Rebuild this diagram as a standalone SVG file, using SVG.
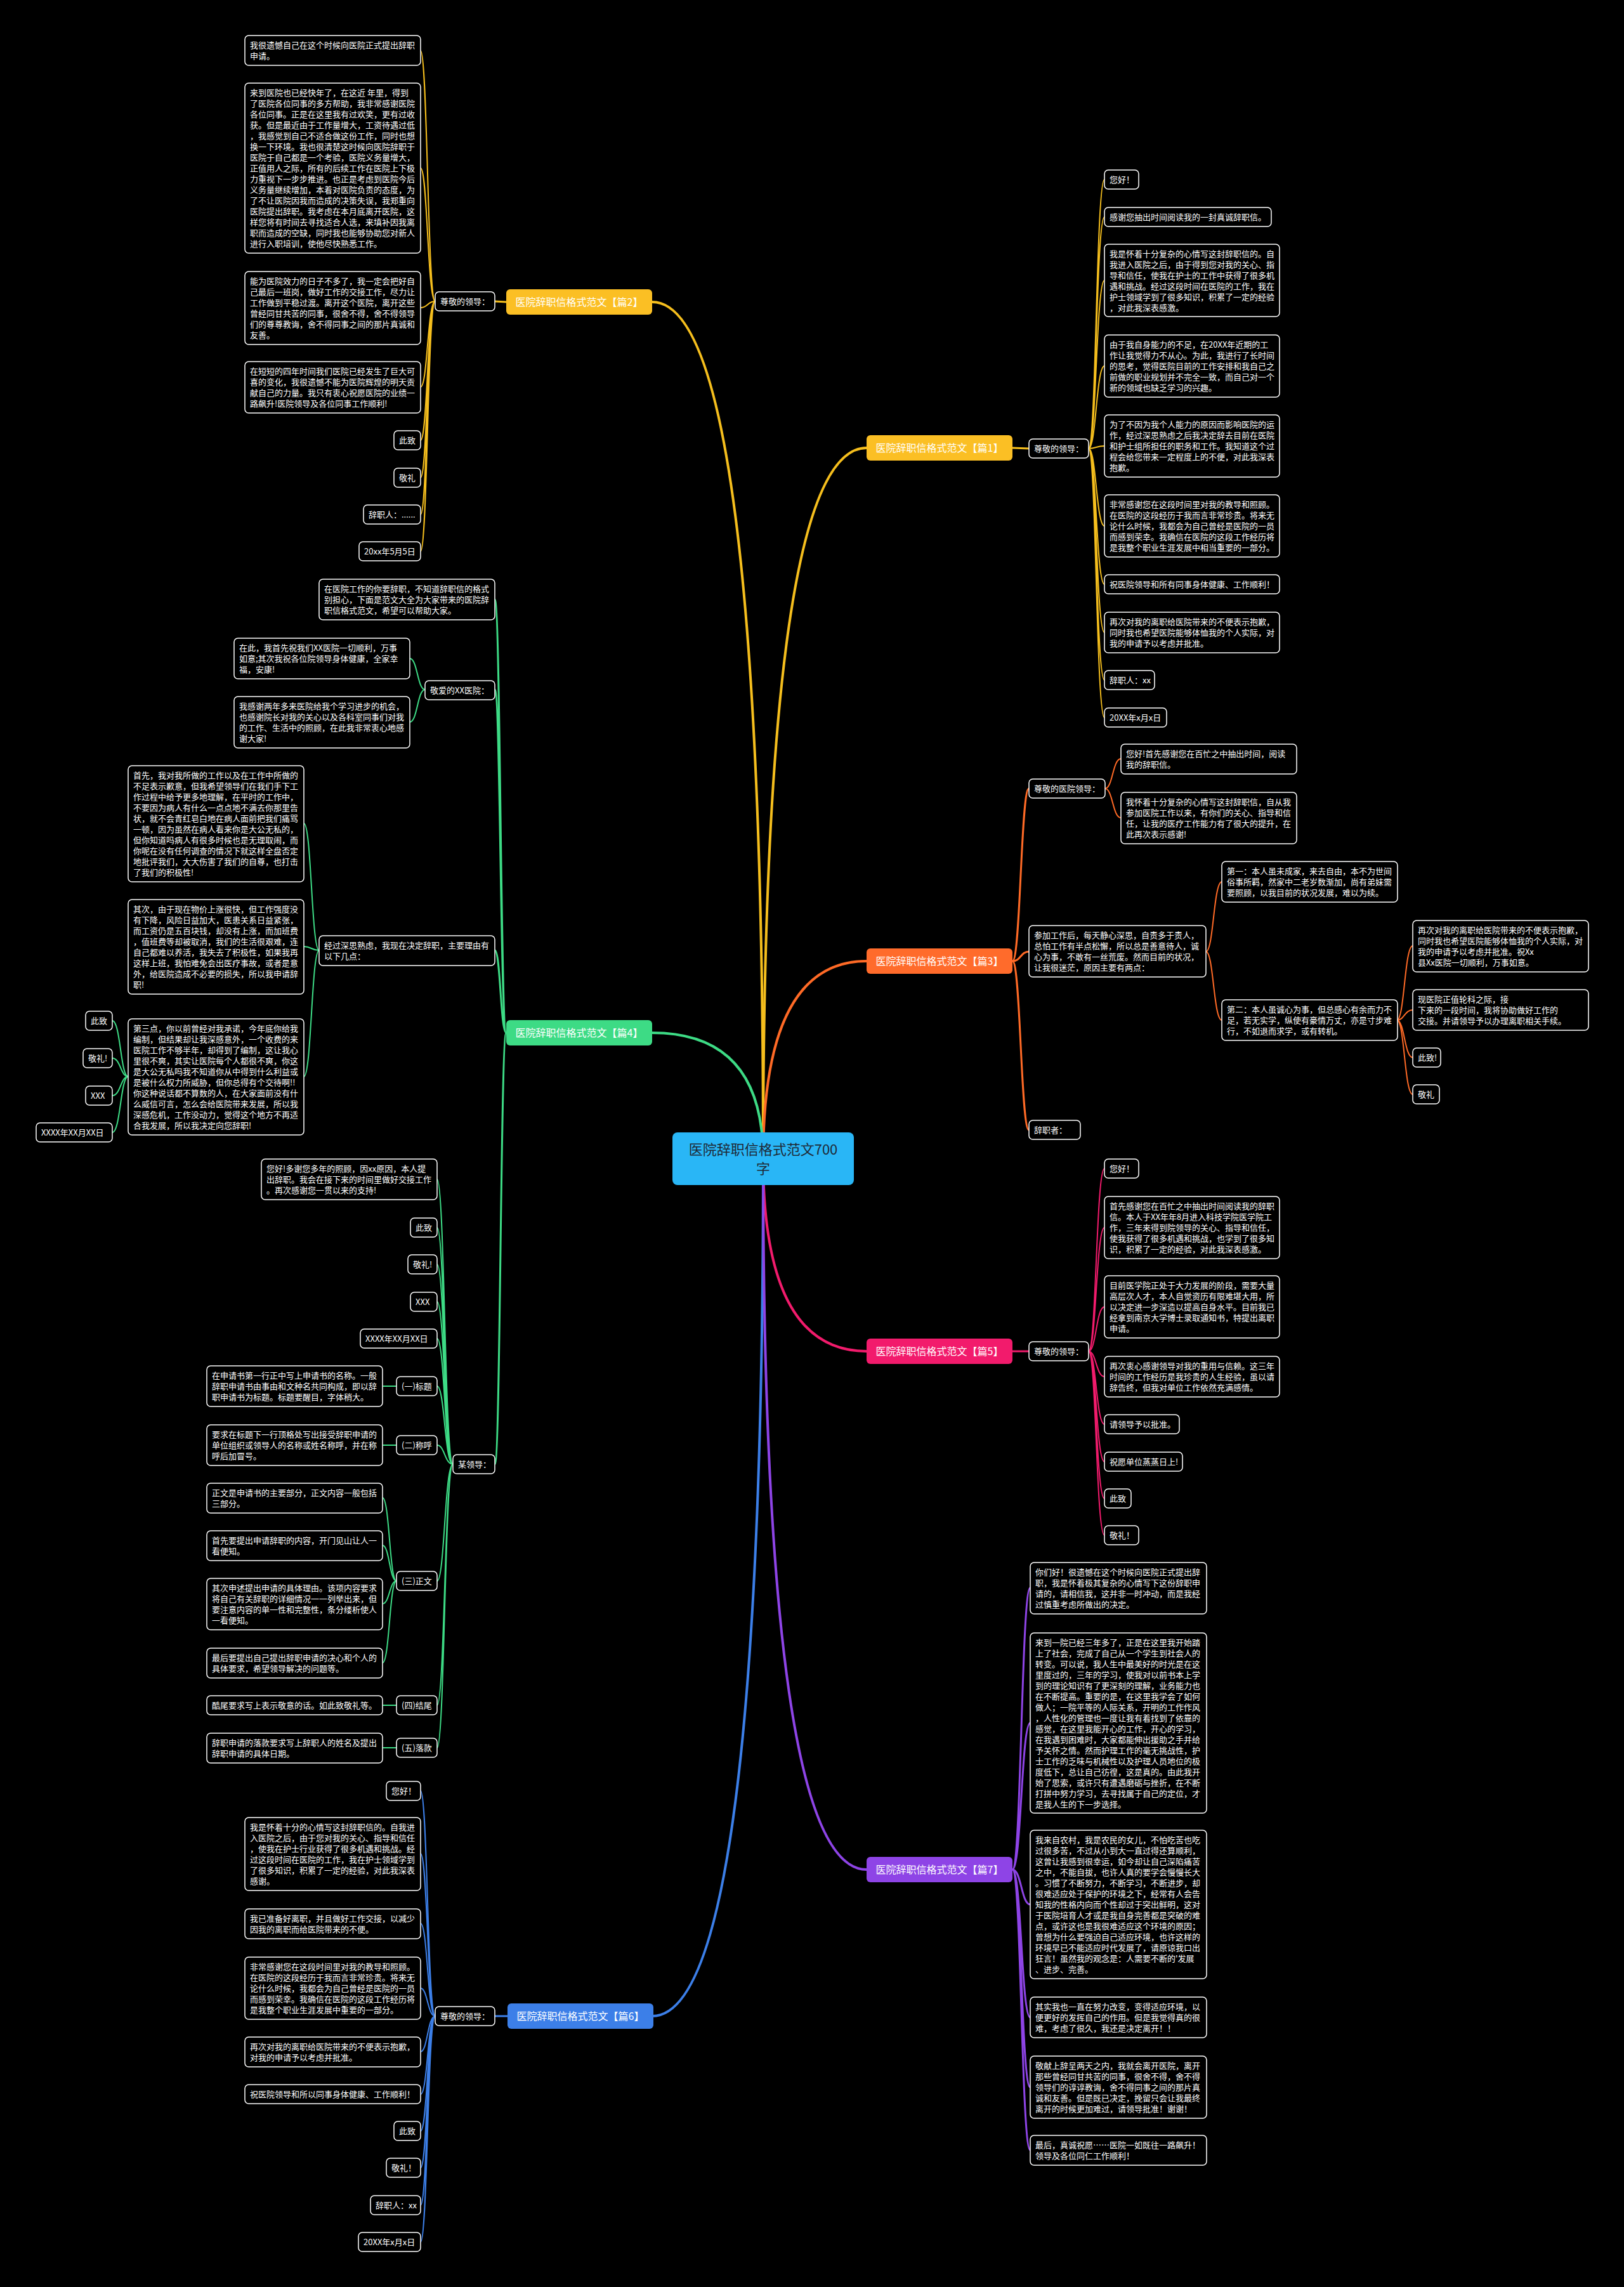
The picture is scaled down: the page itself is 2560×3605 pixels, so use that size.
<svg xmlns="http://www.w3.org/2000/svg" width="2560" height="3605" viewBox="0 0 2560 3605">
<style>
text{font-family:"Noto Sans CJK SC","Noto Sans",sans-serif;font-size:13px;fill:#fff}
.nb{fill:#000;stroke:#fff;stroke-width:1.5}
.lab text{font-size:16px;text-anchor:middle}
.c{fill:none;stroke-linecap:round}
.m{stroke-width:4}.s{stroke-width:3}.t{stroke-width:2}
.y{stroke:#F5BE1D}.o{stroke:#FF6A26}.g{stroke:#3DDB85}.p{stroke:#F21B6C}.b{stroke:#3C7FE8}.v{stroke:#8E44E6}
</style>
<rect width="2560" height="3605" fill="#000"/>
<g id="connectors">
<path class="c m y" d="M1203 1826Q1203 706 1366 706"/>
<path class="c m y" d="M1203 1826Q1203 476 1028 476"/>
<path class="c m o" d="M1203 1826Q1203 1515 1366 1515"/>
<path class="c m g" d="M1203 1826Q1203 1628 1028 1628"/>
<path class="c m p" d="M1203 1826Q1203 2130 1366 2130"/>
<path class="c m b" d="M1203 1826Q1203 3178 1028 3178"/>
<path class="c m v" d="M1203 1826Q1203 2947 1366 2947"/>
<path class="c s y" d="M1596 706L1622 707"/>
<path class="c s y" d="M798 476L780 475"/>
<path class="c s o" d="M1596 1515C1609 1515 1609 1243 1622 1243M1596 1515C1609 1515 1609 1500 1622 1500M1596 1515C1609 1515 1609 1781 1622 1781"/>
<path class="c s g" d="M798 1628C789 1628 789 945 780 945M798 1628C789 1628 789 1087 780 1087M798 1628C789 1628 789 1498 780 1498M798 1628C789 1628 789 2308 780 2308"/>
<path class="c s p" d="M1596 2130L1622 2130"/>
<path class="c s b" d="M800 3178L780 3178"/>
<path class="c s v" d="M1596 2947C1610 2947 1610 2503 1624 2503M1596 2947C1610 2947 1610 2716 1624 2716M1596 2947C1610 2947 1610 3002 1624 3002M1596 2947C1610 2947 1610 3180 1624 3180M1596 2947C1610 2947 1610 3290 1624 3290M1596 2947C1610 2947 1610 3389 1624 3389"/>
<path class="c t y" d="M1716 707C1728 707 1728 283 1741 283M1716 707C1728 707 1728 342 1741 342M1716 707C1728 707 1728 442 1741 442M1716 707C1728 707 1728 577 1741 577M1716 707C1728 707 1728 703 1741 703M1716 707C1728 707 1728 829 1741 829M1716 707C1728 707 1728 921 1741 921M1716 707C1728 707 1728 997 1741 997M1716 707C1728 707 1728 1072 1741 1072M1716 707C1728 707 1728 1131 1741 1131"/>
<path class="c t y" d="M686 475C674 475 674 80 663 80M686 475C674 475 674 265 663 265M686 475C674 475 674 485 663 485M686 475C674 475 674 610 663 610M686 475C674 475 674 694 663 694M686 475C674 475 674 753 663 753M686 475C674 475 674 811 663 811M686 475C674 475 674 869 663 869"/>
<path class="c t o" d="M1742 1243C1754 1243 1754 1196 1767 1196M1742 1243C1754 1243 1754 1289 1767 1289M1901 1500C1913 1500 1913 1390 1926 1390M1901 1500C1913 1500 1913 1608 1926 1608M2202 1608C2214 1608 2214 1491 2227 1491M2202 1608C2214 1608 2214 1592 2227 1592M2202 1608C2214 1608 2214 1667 2227 1667M2202 1608C2214 1608 2214 1725 2227 1725"/>
<path class="c t g" d="M670 1087C658 1087 658 1038 646 1038M670 1087C658 1087 658 1138 646 1138M503 1498C491 1498 491 1298 479 1298M503 1498C491 1498 491 1492 479 1492M503 1498C491 1498 491 1697 479 1697M202 1697C190 1697 190 1609 177 1609M202 1697C190 1697 190 1668 177 1668M202 1697C190 1697 190 1727 177 1727M202 1697C190 1697 190 1785 177 1785"/>
<path class="c t g" d="M714 2308C701 2308 701 1859 689 1859M714 2308C701 2308 701 1935 689 1935M714 2308C701 2308 701 1993 689 1993M714 2308C701 2308 701 2052 689 2052M714 2308C701 2308 701 2110 689 2110M714 2308C701 2308 701 2185 689 2185M714 2308C701 2308 701 2278 689 2278M714 2308C701 2308 701 2492 689 2492M714 2308C701 2308 701 2688 689 2688M714 2308C701 2308 701 2755 689 2755"/>
<path class="c t g" d="M625 2185L603 2185M625 2278L603 2278M625 2492C614 2492 614 2361 603 2361M625 2492C614 2492 614 2436 603 2436M625 2492C614 2492 614 2528 603 2528M625 2492C614 2492 614 2621 603 2621M625 2688L603 2688M625 2755L603 2755"/>
<path class="c t p" d="M1716 2130C1728 2130 1728 1842 1741 1842M1716 2130C1728 2130 1728 1935 1741 1935M1716 2130C1728 2130 1728 2060 1741 2060M1716 2130C1728 2130 1728 2170 1741 2170M1716 2130C1728 2130 1728 2245 1741 2245M1716 2130C1728 2130 1728 2304 1741 2304M1716 2130C1728 2130 1728 2362 1741 2362M1716 2130C1728 2130 1728 2420 1741 2420"/>
<path class="c t b" d="M686 3178C674 3178 674 2823 663 2823M686 3178C674 3178 674 2922 663 2922M686 3178C674 3178 674 3032 663 3032M686 3178C674 3178 674 3134 663 3134M686 3178C674 3178 674 3234 663 3234M686 3178C674 3178 674 3301 663 3301M686 3178C674 3178 674 3359 663 3359M686 3178C674 3178 674 3417 663 3417M686 3178C674 3178 674 3476 663 3476M686 3178C674 3178 674 3534 663 3534"/>
</g>

<g id="center"><rect x="1060" y="1785" width="286" height="83" rx="8" fill="#29B6F6"/>
<text x="1203" y="1820" text-anchor="middle" style="font-size:22px;fill:#1f2a36">医院辞职信格式范文700</text>
<text x="1203" y="1850" text-anchor="middle" style="font-size:22px;fill:#1f2a36">字</text></g>

<g id="label1" class="lab"><rect x="1366" y="686" width="230" height="40" rx="6" fill="#FBBF24"/><text x="1481" y="712">医院辞职信格式范文【篇1】</text></g>
<g id="label2" class="lab"><rect x="798" y="456" width="230" height="40" rx="6" fill="#FBBF24"/><text x="913" y="482">医院辞职信格式范文【篇2】</text></g>
<g id="label3" class="lab"><rect x="1366" y="1495" width="230" height="40" rx="6" fill="#FF6B2B"/><text x="1481" y="1521">医院辞职信格式范文【篇3】</text></g>
<g id="label4" class="lab"><rect x="798" y="1608" width="230" height="40" rx="6" fill="#3DDB85"/><text x="913" y="1634">医院辞职信格式范文【篇4】</text></g>
<g id="label5" class="lab"><rect x="1366" y="2110" width="230" height="40" rx="6" fill="#F21B6C"/><text x="1481" y="2136">医院辞职信格式范文【篇5】</text></g>
<g id="label6" class="lab"><rect x="800" y="3158" width="230" height="40" rx="6" fill="#3C7FE8"/><text x="915" y="3184">医院辞职信格式范文【篇6】</text></g>
<g id="label7" class="lab"><rect x="1366" y="2927" width="230" height="40" rx="6" fill="#8E44E6"/><text x="1481" y="2953">医院辞职信格式范文【篇7】</text></g>

<!-- Pian 1 -->
<g id="p1-root"><rect class="nb" x="1622" y="692" width="94" height="30" rx="6"/><text x="1630" y="712">尊敬的领导：</text></g>
<g id="p1-a"><rect class="nb" x="1741" y="268" width="54" height="30" rx="6"/><text x="1749" y="288">您好！</text></g>
<g id="p1-b"><rect class="nb" x="1741" y="327" width="263" height="30" rx="6"/><text x="1749" y="347">感谢您抽出时间阅读我的一封真诚辞职信。</text></g>
<g id="p1-c"><rect class="nb" x="1741" y="385" width="276" height="114" rx="6"/><text x="1749" y="405"><tspan x="1749">我是怀着十分复杂的心情写这封辞职信的。自</tspan><tspan x="1749" dy="17">我进入医院之后，由于得到您对我的关心、指</tspan><tspan x="1749" dy="17">导和信任，使我在护士的工作中获得了很多机</tspan><tspan x="1749" dy="17">遇和挑战。经过这段时间在医院的工作，我在</tspan><tspan x="1749" dy="17">护士领域学到了很多知识，积累了一定的经验</tspan><tspan x="1749" dy="17">，对此我深表感激。</tspan></text></g>
<g id="p1-d"><rect class="nb" x="1741" y="528" width="276" height="98" rx="6"/><text x="1749" y="548"><tspan x="1749">由于我自身能力的不足，在20XX年近期的工</tspan><tspan x="1749" dy="17">作让我觉得力不从心。为此，我进行了长时间</tspan><tspan x="1749" dy="17">的思考，觉得医院目前的工作安排和我自己之</tspan><tspan x="1749" dy="17">前做的职业规划并不完全一致，而自己对一个</tspan><tspan x="1749" dy="17">新的领域也缺乏学习的兴趣。</tspan></text></g>
<g id="p1-e"><rect class="nb" x="1741" y="654" width="276" height="98" rx="6"/><text x="1749" y="674"><tspan x="1749">为了不因为我个人能力的原因而影响医院的运</tspan><tspan x="1749" dy="17">作，经过深思熟虑之后我决定辞去目前在医院</tspan><tspan x="1749" dy="17">和护士组所担任的职务和工作。我知道这个过</tspan><tspan x="1749" dy="17">程会给您带来一定程度上的不便，对此我深表</tspan><tspan x="1749" dy="17">抱歉。</tspan></text></g>
<g id="p1-f"><rect class="nb" x="1741" y="780" width="276" height="98" rx="6"/><text x="1749" y="800"><tspan x="1749">非常感谢您在这段时间里对我的教导和照顾。</tspan><tspan x="1749" dy="17">在医院的这段经历于我而言非常珍贵。将来无</tspan><tspan x="1749" dy="17">论什么时候，我都会为自己曾经是医院的一员</tspan><tspan x="1749" dy="17">而感到荣幸。我确信在医院的这段工作经历将</tspan><tspan x="1749" dy="17">是我整个职业生涯发展中相当重要的一部分。</tspan></text></g>
<g id="p1-g"><rect class="nb" x="1741" y="906" width="276" height="30" rx="6"/><text x="1749" y="926">祝医院领导和所有同事身体健康、工作顺利！</text></g>
<g id="p1-h"><rect class="nb" x="1741" y="965" width="276" height="64" rx="6"/><text x="1749" y="985"><tspan x="1749">再次对我的离职给医院带来的不便表示抱歉，</tspan><tspan x="1749" dy="17">同时我也希望医院能够体恤我的个人实际，对</tspan><tspan x="1749" dy="17">我的申请予以考虑并批准。</tspan></text></g>
<g id="p1-i"><rect class="nb" x="1741" y="1057" width="79" height="30" rx="6"/><text x="1749" y="1077">辞职人：xx</text></g>
<g id="p1-j"><rect class="nb" x="1741" y="1116" width="98" height="30" rx="6"/><text x="1749" y="1136">20XX年x月x日</text></g>

<!-- Pian 2 -->
<g id="p2-root"><rect class="nb" x="686" y="460" width="94" height="30" rx="6"/><text x="694" y="480">尊敬的领导：</text></g>
<g id="p2-a"><rect class="nb" x="386" y="56" width="277" height="47" rx="6"/><text x="394" y="76"><tspan x="394">我很遗憾自己在这个时候向医院正式提出辞职</tspan><tspan x="394" dy="17">申请。</tspan></text></g>
<g id="p2-b"><rect class="nb" x="386" y="131" width="277" height="268" rx="6"/><text x="394" y="151"><tspan x="394">来到医院也已经快年了，在这近 年里，得到</tspan><tspan x="394" dy="17">了医院各位同事的多方帮助，我非常感谢医院</tspan><tspan x="394" dy="17">各位同事。正是在这里我有过欢笑，更有过收</tspan><tspan x="394" dy="17">获。但是最近由于工作量增大，工资待遇过低</tspan><tspan x="394" dy="17">，我感觉到自己不适合做这份工作，同时也想</tspan><tspan x="394" dy="17">换一下环境。我也很清楚这时候向医院辞职于</tspan><tspan x="394" dy="17">医院于自己都是一个考验，医院义务量增大，</tspan><tspan x="394" dy="17">正值用人之际，所有的后续工作在医院上下极</tspan><tspan x="394" dy="17">力重视下一步步推进。也正是考虑到医院今后</tspan><tspan x="394" dy="17">义务量继续增加，本着对医院负责的态度，为</tspan><tspan x="394" dy="17">了不让医院因我而造成的决策失误，我郑重向</tspan><tspan x="394" dy="17">医院提出辞职。我考虑在本月底离开医院，这</tspan><tspan x="394" dy="17">样您将有时间去寻找适合人选，来填补因我离</tspan><tspan x="394" dy="17">职而造成的空缺，同时我也能够协助您对新人</tspan><tspan x="394" dy="17">进行入职培训，使他尽快熟悉工作。</tspan></text></g>
<g id="p2-c"><rect class="nb" x="386" y="428" width="277" height="115" rx="6"/><text x="394" y="448"><tspan x="394">能为医院效力的日子不多了，我一定会把好自</tspan><tspan x="394" dy="17">己最后一班岗，做好工作的交接工作，尽力让</tspan><tspan x="394" dy="17">工作做到平稳过渡。离开这个医院，离开这些</tspan><tspan x="394" dy="17">曾经同甘共苦的同事，很舍不得，舍不得领导</tspan><tspan x="394" dy="17">们的尊尊教诲，舍不得同事之间的那片真诚和</tspan><tspan x="394" dy="17">友善。</tspan></text></g>
<g id="p2-d"><rect class="nb" x="386" y="570" width="277" height="81" rx="6"/><text x="394" y="590"><tspan x="394">在短短的四年时间我们医院已经发生了巨大可</tspan><tspan x="394" dy="17">喜的变化，我很遗憾不能为医院辉煌的明天贡</tspan><tspan x="394" dy="17">献自己的力量。我只有衷心祝愿医院的业绩一</tspan><tspan x="394" dy="17">路飙升!医院领导及各位同事工作顺利!</tspan></text></g>
<g id="p2-e"><rect class="nb" x="621" y="679" width="42" height="30" rx="6"/><text x="629" y="699">此致</text></g>
<g id="p2-f"><rect class="nb" x="621" y="738" width="42" height="30" rx="6"/><text x="629" y="758">敬礼</text></g>
<g id="p2-g"><rect class="nb" x="573" y="796" width="90" height="30" rx="6"/><text x="581" y="816">辞职人：......</text></g>
<g id="p2-h"><rect class="nb" x="566" y="854" width="97" height="30" rx="6"/><text x="574" y="874">20xx年5月5日</text></g>

<!-- Pian 3 -->
<g id="p3-root1"><rect class="nb" x="1622" y="1228" width="120" height="30" rx="6"/><text x="1630" y="1248">尊敬的医院领导：</text></g>
<g id="p3-a"><rect class="nb" x="1767" y="1173" width="277" height="47" rx="6"/><text x="1775" y="1193"><tspan x="1775">您好!首先感谢您在百忙之中抽出时间，阅读</tspan><tspan x="1775" dy="17">我的辞职信。</tspan></text></g>
<g id="p3-b"><rect class="nb" x="1767" y="1249" width="277" height="81" rx="6"/><text x="1775" y="1269"><tspan x="1775">我怀着十分复杂的心情写这封辞职信，自从我</tspan><tspan x="1775" dy="17">参加医院工作以来，有你们的关心、指导和信</tspan><tspan x="1775" dy="17">任，让我的医疗工作能力有了很大的提升，在</tspan><tspan x="1775" dy="17">此再次表示感谢!</tspan></text></g>
<g id="p3-root2"><rect class="nb" x="1622" y="1459" width="279" height="81" rx="6"/><text x="1630" y="1479"><tspan x="1630">参加工作后，每天静心深思，自责多于责人，</tspan><tspan x="1630" dy="17">总怕工作有半点松懈，所以总是善意待人，诚</tspan><tspan x="1630" dy="17">心为事，不敢有一丝荒废。然而目前的状况，</tspan><tspan x="1630" dy="17">让我很迷茫，原因主要有两点：</tspan></text></g>
<g id="p3-c"><rect class="nb" x="1926" y="1358" width="277" height="64" rx="6"/><text x="1934" y="1378"><tspan x="1934">第一：本人虽未成家，来去自由，本不为世间</tspan><tspan x="1934" dy="17">俗事所羁，然家中二老岁数渐加，尚有弟妹需</tspan><tspan x="1934" dy="17">要照顾，以我目前的状况发展，难以为续。</tspan></text></g>
<g id="p3-d"><rect class="nb" x="1926" y="1576" width="277" height="64" rx="6"/><text x="1934" y="1596"><tspan x="1934">第二：本人虽诚心为事，但总感心有余而力不</tspan><tspan x="1934" dy="17">足，若无实学，纵使有豪情万丈，亦是寸步难</tspan><tspan x="1934" dy="17">行，不如退而求学，或有转机。</tspan></text></g>
<g id="p3-e"><rect class="nb" x="2227" y="1451" width="277" height="81" rx="6"/><text x="2235" y="1471"><tspan x="2235">再次对我的离职给医院带来的不便表示抱歉，</tspan><tspan x="2235" dy="17">同时我也希望医院能够体恤我的个人实际，对</tspan><tspan x="2235" dy="17">我的申请予以考虑并批准。祝Xx</tspan><tspan x="2235" dy="17">县Xx医院一切顺利，万事如意。</tspan></text></g>
<g id="p3-f"><rect class="nb" x="2227" y="1560" width="277" height="64" rx="6"/><text x="2235" y="1580"><tspan x="2235">现医院正值轮科之际，接</tspan><tspan x="2235" dy="17">下来的一段时间，我将协助做好工作的</tspan><tspan x="2235" dy="17">交接。并请领导予以办理离职相关手续。</tspan></text></g>
<g id="p3-g"><rect class="nb" x="2227" y="1652" width="44" height="30" rx="6"/><text x="2235" y="1672">此致!</text></g>
<g id="p3-h"><rect class="nb" x="2227" y="1710" width="42" height="30" rx="6"/><text x="2235" y="1730">敬礼</text></g>
<g id="p3-root3"><rect class="nb" x="1622" y="1766" width="81" height="30" rx="6"/><text x="1630" y="1786">辞职者：</text></g>

<!-- Pian 4 -->
<g id="p4-intro"><rect class="nb" x="503" y="913" width="277" height="64" rx="6"/><text x="511" y="933"><tspan x="511">在医院工作的你要辞职，不知道辞职信的格式</tspan><tspan x="511" dy="17">别担心，下面是范文大全为大家带来的医院辞</tspan><tspan x="511" dy="17">职信格式范文，希望可以帮助大家。</tspan></text></g>
<g id="p4-root1"><rect class="nb" x="670" y="1073" width="110" height="30" rx="6"/><text x="678" y="1093">敬爱的XX医院：</text></g>
<g id="p4-a"><rect class="nb" x="369" y="1006" width="277" height="64" rx="6"/><text x="377" y="1026"><tspan x="377">在此，我首先祝我们XX医院一切顺利，万事</tspan><tspan x="377" dy="17">如意;其次我祝各位院领导身体健康，全家幸</tspan><tspan x="377" dy="17">福，安康!</tspan></text></g>
<g id="p4-b"><rect class="nb" x="369" y="1098" width="277" height="81" rx="6"/><text x="377" y="1118"><tspan x="377">我感谢两年多来医院给我个学习进步的机会，</tspan><tspan x="377" dy="17">也感谢院长对我的关心以及各科室同事们对我</tspan><tspan x="377" dy="17">的工作、生活中的照顾，在此我非常衷心地感</tspan><tspan x="377" dy="17">谢大家!</tspan></text></g>
<g id="p4-root2"><rect class="nb" x="503" y="1475" width="277" height="47" rx="6"/><text x="511" y="1495"><tspan x="511">经过深思熟虑，我现在决定辞职，主要理由有</tspan><tspan x="511" dy="17">以下几点：</tspan></text></g>
<g id="p4-c"><rect class="nb" x="202" y="1207" width="277" height="183" rx="6"/><text x="210" y="1227"><tspan x="210">首先，我对我所做的工作以及在工作中所做的</tspan><tspan x="210" dy="17">不足表示歉意，但我希望领导们在我们手下工</tspan><tspan x="210" dy="17">作过程中给予更多地理解，在平时的工作中，</tspan><tspan x="210" dy="17">不要因为病人有什么一点点地不满去你那里告</tspan><tspan x="210" dy="17">状，就不会青红皂白地在病人面前把我们痛骂</tspan><tspan x="210" dy="17">一顿，因为虽然在病人看来你是大公无私的，</tspan><tspan x="210" dy="17">但你知道吗病人有很多时候也是无理取闹，而</tspan><tspan x="210" dy="17">你呢在没有任何调查的情况下就这样全盘否定</tspan><tspan x="210" dy="17">地批评我们，大大伤害了我们的自尊，也打击</tspan><tspan x="210" dy="17">了我们的积极性!</tspan></text></g>
<g id="p4-d"><rect class="nb" x="202" y="1418" width="277" height="149" rx="6"/><text x="210" y="1438"><tspan x="210">其次，由于现在物价上涨很快，但工作强度没</tspan><tspan x="210" dy="17">有下降，风险日益加大，医患关系日益紧张，</tspan><tspan x="210" dy="17">而工资仍是五百块钱，却没有上涨，而加班费</tspan><tspan x="210" dy="17">，值班费等却被取消，我们的生活很艰难，连</tspan><tspan x="210" dy="17">自己都难以养活，我失去了积极性，如果我再</tspan><tspan x="210" dy="17">这样上班，我怕难免会出医疗事故，或者是意</tspan><tspan x="210" dy="17">外，给医院造成不必要的损失，所以我申请辞</tspan><tspan x="210" dy="17">职!</tspan></text></g>
<g id="p4-e"><rect class="nb" x="202" y="1606" width="277" height="183" rx="6"/><text x="210" y="1626"><tspan x="210">第三点，你以前曾经对我承诺，今年底你给我</tspan><tspan x="210" dy="17">编制，但结果却让我深感意外，一个收费的来</tspan><tspan x="210" dy="17">医院工作不够半年，却得到了编制，这让我心</tspan><tspan x="210" dy="17">里很不爽，其实让医院每个人都很不爽，你这</tspan><tspan x="210" dy="17">是大公无私吗我不知道你从中得到什么利益或</tspan><tspan x="210" dy="17">是被什么权力所威胁，但你总得有个交待啊!!</tspan><tspan x="210" dy="17">你这种说话都不算数的人，在大家面前没有什</tspan><tspan x="210" dy="17">么威信可言，怎么会给医院带来发展，所以我</tspan><tspan x="210" dy="17">深感危机，工作没动力，觉得这个地方不再适</tspan><tspan x="210" dy="17">合我发展，所以我决定向您辞职!</tspan></text></g>
<g id="p4-f"><rect class="nb" x="135" y="1594" width="42" height="30" rx="6"/><text x="143" y="1614">此致</text></g>
<g id="p4-g"><rect class="nb" x="131" y="1653" width="46" height="30" rx="6"/><text x="139" y="1673">敬礼!</text></g>
<g id="p4-h"><rect class="nb" x="135" y="1712" width="42" height="30" rx="6"/><text x="143" y="1732">XXX</text></g>
<g id="p4-i"><rect class="nb" x="57" y="1770" width="120" height="30" rx="6"/><text x="65" y="1790">XXXX年XX月XX日</text></g>
<g id="p4-root3"><rect class="nb" x="714" y="2293" width="66" height="30" rx="6"/><text x="722" y="2313">某领导：</text></g>
<g id="p4-j"><rect class="nb" x="412" y="1827" width="277" height="64" rx="6"/><text x="420" y="1847"><tspan x="420">您好!多谢您多年的照顾，因xx原因，本人提</tspan><tspan x="420" dy="17">出辞职。我会在接下来的时间里做好交接工作</tspan><tspan x="420" dy="17">。再次感谢您一贯以来的支持!</tspan></text></g>
<g id="p4-k"><rect class="nb" x="647" y="1920" width="42" height="30" rx="6"/><text x="655" y="1940">此致</text></g>
<g id="p4-l"><rect class="nb" x="643" y="1978" width="46" height="30" rx="6"/><text x="651" y="1998">敬礼!</text></g>
<g id="p4-m"><rect class="nb" x="647" y="2037" width="42" height="30" rx="6"/><text x="655" y="2057">XXX</text></g>
<g id="p4-n"><rect class="nb" x="568" y="2095" width="121" height="30" rx="6"/><text x="576" y="2115">XXXX年XX月XX日</text></g>
<g id="p4-o"><rect class="nb" x="625" y="2170" width="64" height="30" rx="6"/><text x="633" y="2190">(一)标题</text></g>
<g id="p4-o1"><rect class="nb" x="326" y="2153" width="277" height="64" rx="6"/><text x="334" y="2173"><tspan x="334">在申请书第一行正中写上申请书的名称。一般</tspan><tspan x="334" dy="17">辞职申请书由事由和文种名共同构成，即以辞</tspan><tspan x="334" dy="17">职申请书为标题。标题要醒目，字体稍大。</tspan></text></g>
<g id="p4-p"><rect class="nb" x="625" y="2263" width="64" height="30" rx="6"/><text x="633" y="2283">(二)称呼</text></g>
<g id="p4-p1"><rect class="nb" x="326" y="2246" width="277" height="64" rx="6"/><text x="334" y="2266"><tspan x="334">要求在标题下一行顶格处写出接受辞职申请的</tspan><tspan x="334" dy="17">单位组织或领导人的名称或姓名称呼，并在称</tspan><tspan x="334" dy="17">呼后加冒号。</tspan></text></g>
<g id="p4-q"><rect class="nb" x="625" y="2477" width="64" height="30" rx="6"/><text x="633" y="2497">(三)正文</text></g>
<g id="p4-q1"><rect class="nb" x="326" y="2338" width="277" height="47" rx="6"/><text x="334" y="2358"><tspan x="334">正文是申请书的主要部分，正文内容一般包括</tspan><tspan x="334" dy="17">三部分。</tspan></text></g>
<g id="p4-q2"><rect class="nb" x="326" y="2413" width="277" height="47" rx="6"/><text x="334" y="2433"><tspan x="334">首先要提出申请辞职的内容，开门见山让人一</tspan><tspan x="334" dy="17">看便知。</tspan></text></g>
<g id="p4-q3"><rect class="nb" x="326" y="2488" width="277" height="81" rx="6"/><text x="334" y="2508"><tspan x="334">其次申述提出申请的具体理由。该项内容要求</tspan><tspan x="334" dy="17">将自己有关辞职的详细情况一一列举出来，但</tspan><tspan x="334" dy="17">要注意内容的单一性和完整性，条分缕析使人</tspan><tspan x="334" dy="17">一看便知。</tspan></text></g>
<g id="p4-q4"><rect class="nb" x="326" y="2598" width="277" height="47" rx="6"/><text x="334" y="2618"><tspan x="334">最后要提出自己提出辞职申请的决心和个人的</tspan><tspan x="334" dy="17">具体要求，希望领导解决的问题等。</tspan></text></g>
<g id="p4-r"><rect class="nb" x="625" y="2673" width="64" height="30" rx="6"/><text x="633" y="2693">(四)结尾</text></g>
<g id="p4-r1"><rect class="nb" x="326" y="2673" width="277" height="30" rx="6"/><text x="334" y="2693">酷尾要求写上表示敬意的话。如此致敬礼等。</text></g>
<g id="p4-s"><rect class="nb" x="625" y="2740" width="64" height="30" rx="6"/><text x="633" y="2760">(五)落款</text></g>
<g id="p4-s1"><rect class="nb" x="326" y="2732" width="277" height="47" rx="6"/><text x="334" y="2752"><tspan x="334">辞职申请的落款要求写上辞职人的姓名及提出</tspan><tspan x="334" dy="17">辞职申请的具体日期。</tspan></text></g>

<!-- Pian 5 -->
<g id="p5-root"><rect class="nb" x="1622" y="2115" width="94" height="30" rx="6"/><text x="1630" y="2135">尊敬的领导：</text></g>
<g id="p5-a"><rect class="nb" x="1741" y="1827" width="54" height="30" rx="6"/><text x="1749" y="1847">您好！</text></g>
<g id="p5-b"><rect class="nb" x="1741" y="1886" width="276" height="98" rx="6"/><text x="1749" y="1906"><tspan x="1749">首先感谢您在百忙之中抽出时间阅读我的辞职</tspan><tspan x="1749" dy="17">信。本人于XX年年8月进入科技学院医学院工</tspan><tspan x="1749" dy="17">作，三年来得到院领导的关心、指导和信任，</tspan><tspan x="1749" dy="17">使我获得了很多机遇和挑战，也学到了很多知</tspan><tspan x="1749" dy="17">识，积累了一定的经验，对此我深表感激。</tspan></text></g>
<g id="p5-c"><rect class="nb" x="1741" y="2011" width="276" height="98" rx="6"/><text x="1749" y="2031"><tspan x="1749">目前医学院正处于大力发展的阶段，需要大量</tspan><tspan x="1749" dy="17">高层次人才，本人自觉资历有限难堪大用，所</tspan><tspan x="1749" dy="17">以决定进一步深造以提高自身水平。目前我已</tspan><tspan x="1749" dy="17">经拿到南京大学博士录取通知书，特提出离职</tspan><tspan x="1749" dy="17">申请。</tspan></text></g>
<g id="p5-d"><rect class="nb" x="1741" y="2138" width="276" height="64" rx="6"/><text x="1749" y="2158"><tspan x="1749">再次衷心感谢领导对我的重用与信赖。这三年</tspan><tspan x="1749" dy="17">时间的工作经历是我珍贵的人生经验，虽以请</tspan><tspan x="1749" dy="17">辞告终，但我对单位工作依然充满感情。</tspan></text></g>
<g id="p5-e"><rect class="nb" x="1741" y="2230" width="118" height="30" rx="6"/><text x="1749" y="2250">请领导予以批准。</text></g>
<g id="p5-f"><rect class="nb" x="1741" y="2289" width="123" height="30" rx="6"/><text x="1749" y="2309">祝愿单位蒸蒸日上!</text></g>
<g id="p5-g"><rect class="nb" x="1741" y="2347" width="42" height="30" rx="6"/><text x="1749" y="2367">此致</text></g>
<g id="p5-h"><rect class="nb" x="1741" y="2405" width="54" height="30" rx="6"/><text x="1749" y="2425">敬礼！</text></g>

<!-- Pian 6 -->
<g id="p6-root"><rect class="nb" x="686" y="3163" width="94" height="30" rx="6"/><text x="694" y="3183">尊敬的领导：</text></g>
<g id="p6-a"><rect class="nb" x="609" y="2808" width="54" height="30" rx="6"/><text x="617" y="2828">您好！</text></g>
<g id="p6-b"><rect class="nb" x="386" y="2865" width="277" height="115" rx="6"/><text x="394" y="2885"><tspan x="394">我是怀着十分的心情写这封辞职信的。自我进</tspan><tspan x="394" dy="17">入医院之后，由于您对我的关心、指导和信任</tspan><tspan x="394" dy="17">，使我在护士行业获得了很多机遇和挑战。经</tspan><tspan x="394" dy="17">过这段时间在医院的工作，我在护士领域学到</tspan><tspan x="394" dy="17">了很多知识，积累了一定的经验，对此我深表</tspan><tspan x="394" dy="17">感谢。</tspan></text></g>
<g id="p6-c"><rect class="nb" x="386" y="3009" width="277" height="47" rx="6"/><text x="394" y="3029"><tspan x="394">我已准备好离职，并且做好工作交接，以减少</tspan><tspan x="394" dy="17">因我的离职而给医院带来的不便。</tspan></text></g>
<g id="p6-d"><rect class="nb" x="386" y="3085" width="277" height="98" rx="6"/><text x="394" y="3105"><tspan x="394">非常感谢您在这段时间里对我的教导和照顾。</tspan><tspan x="394" dy="17">在医院的这段经历于我而言非常珍贵。将来无</tspan><tspan x="394" dy="17">论什么时候，我都会为自己曾经是医院的一员</tspan><tspan x="394" dy="17">而感到荣幸。我确信在医院的这段工作经历将</tspan><tspan x="394" dy="17">是我整个职业生涯发展中重要的一部分。</tspan></text></g>
<g id="p6-e"><rect class="nb" x="386" y="3211" width="277" height="47" rx="6"/><text x="394" y="3231"><tspan x="394">再次对我的离职给医院带来的不便表示抱歉，</tspan><tspan x="394" dy="17">对我的申请予以考虑并批准。</tspan></text></g>
<g id="p6-f"><rect class="nb" x="386" y="3286" width="277" height="30" rx="6"/><text x="394" y="3306">祝医院领导和所以同事身体健康、工作顺利！</text></g>
<g id="p6-g"><rect class="nb" x="621" y="3344" width="42" height="30" rx="6"/><text x="629" y="3364">此致</text></g>
<g id="p6-h"><rect class="nb" x="609" y="3402" width="54" height="30" rx="6"/><text x="617" y="3422">敬礼！</text></g>
<g id="p6-i"><rect class="nb" x="584" y="3461" width="79" height="30" rx="6"/><text x="592" y="3481">辞职人：xx</text></g>
<g id="p6-j"><rect class="nb" x="565" y="3519" width="98" height="30" rx="6"/><text x="573" y="3539">20XX年x月x日</text></g>

<!-- Pian 7 -->
<g id="p7-a"><rect class="nb" x="1624" y="2463" width="278" height="81" rx="6"/><text x="1632" y="2483"><tspan x="1632">你们好！很遗憾在这个时候向医院正式提出辞</tspan><tspan x="1632" dy="17">职，我是怀着极其复杂的心情写下这份辞职申</tspan><tspan x="1632" dy="17">请的，请相信我，这并非一时冲动，而是我经</tspan><tspan x="1632" dy="17">过慎重考虑所做出的决定。</tspan></text></g>
<g id="p7-b"><rect class="nb" x="1624" y="2574" width="278" height="284" rx="6"/><text x="1632" y="2594"><tspan x="1632">来到一院已经三年多了，正是在这里我开始踏</tspan><tspan x="1632" dy="17">上了社会，完成了自己从一个学生到社会人的</tspan><tspan x="1632" dy="17">转变。可以说，我人生中最美好的时光是在这</tspan><tspan x="1632" dy="17">里度过的，三年的学习，使我对以前书本上学</tspan><tspan x="1632" dy="17">到的理论知识有了更深刻的理解，业务能力也</tspan><tspan x="1632" dy="17">在不断提高。重要的是，在这里我学会了如何</tspan><tspan x="1632" dy="17">做人；一院平等的人际关系，开明的工作作风</tspan><tspan x="1632" dy="17">，人性化的管理也一度让我有着找到了依靠的</tspan><tspan x="1632" dy="17">感觉，在这里我能开心的工作，开心的学习，</tspan><tspan x="1632" dy="17">在我遇到困难时，大家都能伸出援助之手并给</tspan><tspan x="1632" dy="17">予关怀之情。然而护理工作的毫无挑战性，护</tspan><tspan x="1632" dy="17">士工作的乏味与机械性以及护理人员地位的极</tspan><tspan x="1632" dy="17">度低下，总让自己彷徨，这是真的。由此我开</tspan><tspan x="1632" dy="17">始了思索，或许只有遭遇磨砺与挫折，在不断</tspan><tspan x="1632" dy="17">打拼中努力学习，去寻找属于自己的定位，才</tspan><tspan x="1632" dy="17">是我人生的下一步选择。</tspan></text></g>
<g id="p7-c"><rect class="nb" x="1624" y="2885" width="278" height="234" rx="6"/><text x="1632" y="2905"><tspan x="1632">我来自农村，我是农民的女儿，不怕吃苦也吃</tspan><tspan x="1632" dy="17">过很多苦，不过从小到大一直过得还算顺利，</tspan><tspan x="1632" dy="17">这曾让我感到很幸运，如今却让自己深陷痛苦</tspan><tspan x="1632" dy="17">之中，不能自拔，也许人真的要学会慢慢长大</tspan><tspan x="1632" dy="17">。习惯了不断努力，不断学习，不断进步，却</tspan><tspan x="1632" dy="17">很难适应处于保护的环境之下，经常有人会告</tspan><tspan x="1632" dy="17">知我的性格内向而个性却过于突出鲜明，这对</tspan><tspan x="1632" dy="17">于医院培育人才或是我自身完善都是突破的难</tspan><tspan x="1632" dy="17">点，或许这也是我很难适应这个环境的原因；</tspan><tspan x="1632" dy="17">曾想为什么要强迫自己适应环境，也许这样的</tspan><tspan x="1632" dy="17">环境早已不能适应时代发展了，请原谅我口出</tspan><tspan x="1632" dy="17">狂言！虽然我的观念是：人需要不断的'发展</tspan><tspan x="1632" dy="17">、进步、完善。</tspan></text></g>
<g id="p7-d"><rect class="nb" x="1624" y="3148" width="278" height="64" rx="6"/><text x="1632" y="3168"><tspan x="1632">其实我也一直在努力改变，变得适应环境，以</tspan><tspan x="1632" dy="17">便更好的发挥自己的作用。但是我觉得真的很</tspan><tspan x="1632" dy="17">难，考虑了很久，我还是决定离开！！</tspan></text></g>
<g id="p7-e"><rect class="nb" x="1624" y="3241" width="278" height="98" rx="6"/><text x="1632" y="3261"><tspan x="1632">敬献上辞呈两天之内，我就会离开医院，离开</tspan><tspan x="1632" dy="17">那些曾经同甘共苦的同事，很舍不得，舍不得</tspan><tspan x="1632" dy="17">领导们的谆谆教诲，舍不得同事之间的那片真</tspan><tspan x="1632" dy="17">诚和友善。但是既已决定，挽留只会让我最终</tspan><tspan x="1632" dy="17">离开的时候更加难过，请领导批准！谢谢！</tspan></text></g>
<g id="p7-f"><rect class="nb" x="1624" y="3366" width="278" height="47" rx="6"/><text x="1632" y="3386"><tspan x="1632">最后，真诚祝愿……医院一如既往一路飙升！</tspan><tspan x="1632" dy="17">领导及各位同仁工作顺利！</tspan></text></g>
</svg>
